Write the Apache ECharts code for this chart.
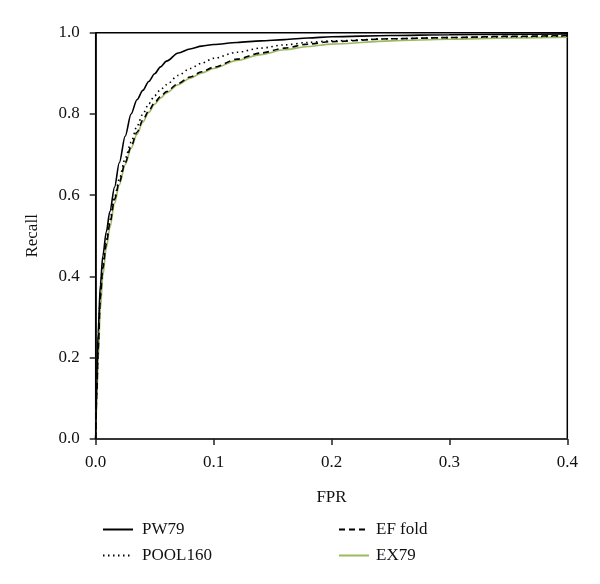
<!DOCTYPE html>
<html><head><meta charset="utf-8">
<script src="https://cdn.jsdelivr.net/npm/echarts@6/dist/echarts.min.js"></script>
<style>html,body{margin:0;padding:0;background:#fff}#c{width:600px;height:584px}</style>
</head><body><div id="c"></div>
<script>
const fpr = [0, 0.001, 0.002, 0.004, 0.006, 0.009, 0.012, 0.016, 0.02, 0.025, 0.03, 0.035, 0.04, 0.045, 0.05, 0.055, 0.06, 0.07, 0.08, 0.09, 0.1, 0.12, 0.14, 0.16, 0.18, 0.2, 0.25, 0.3, 0.35, 0.4];
const pw79    = [0, 0.15, 0.26, 0.38, 0.45, 0.51, 0.56, 0.62, 0.68, 0.745, 0.80, 0.835, 0.858, 0.880, 0.899, 0.916, 0.930, 0.950, 0.960, 0.967, 0.971, 0.976, 0.980, 0.983, 0.987, 0.990, 0.993, 0.995, 0.996, 0.997];
const pool160 = [0, 0.13, 0.23, 0.36, 0.43, 0.49, 0.54, 0.595, 0.64, 0.69, 0.73, 0.77, 0.80, 0.825, 0.845, 0.86, 0.872, 0.895, 0.912, 0.925, 0.937, 0.952, 0.962, 0.970, 0.976, 0.980, 0.985, 0.988, 0.990, 0.992];
const effold  = [0, 0.12, 0.22, 0.35, 0.42, 0.48, 0.53, 0.59, 0.632, 0.68, 0.72, 0.755, 0.785, 0.808, 0.828, 0.843, 0.855, 0.875, 0.891, 0.904, 0.915, 0.935, 0.95, 0.962, 0.972, 0.978, 0.985, 0.988, 0.991, 0.993];
const ex79    = [0, 0.10, 0.19, 0.32, 0.40, 0.47, 0.52, 0.58, 0.625, 0.675, 0.715, 0.75, 0.78, 0.804, 0.824, 0.839, 0.852, 0.872, 0.888, 0.901, 0.912, 0.932, 0.946, 0.958, 0.966, 0.972, 0.98, 0.984, 0.987, 0.989];
const xTicks = [0, 0.1, 0.2, 0.3, 0.4];
const yTicks = [0, 0.2, 0.4, 0.6, 0.8, 1.0];
const names = ['PW79', 'POOL160', 'EF fold', 'EX79'];

const font = 'Liberation Serif';
const pairs = ys => fpr.map((x, i) => [x, ys[i]]);
const mk = (name, ys, color, type, width) => ({
  name, type: 'line', data: pairs(ys), showSymbol: false, symbol: 'none',
  smooth: 0.3, smoothMonotone: 'x',
  lineStyle: { color, type, width }, itemStyle: { color }
});
const legendCommon = {
  orient: 'vertical', top: 516, itemWidth: 30, itemHeight: 14, itemGap: 9,
  itemStyle: { opacity: 0, borderWidth: 0 }
};
const chart = echarts.init(document.getElementById('c'));
chart.setOption({
  animation: false,
  grid: { left: 95.7, right: 32.7, top: 32.7, bottom: 145, show: true, borderColor: '#000', borderWidth: 1.5, backgroundColor: 'transparent' },
  xAxis: {
    type: 'value', min: xTicks[0], max: xTicks[xTicks.length - 1], interval: 0.1,
    name: 'FPR', nameLocation: 'middle', nameGap: 50,
    nameTextStyle: { fontFamily: font, fontSize: 17, color: '#111' },
    axisLine: { lineStyle: { color: '#333', width: 1.5 } },
    axisTick: { inside: false, length: 6, lineStyle: { color: '#222', width: 1.5 } },
    axisLabel: { margin: 15, fontFamily: font, fontSize: 17, color: '#111', formatter: v => v.toFixed(1) },
    splitLine: { show: false }
  },
  yAxis: {
    type: 'value', min: yTicks[0], max: yTicks[yTicks.length - 1], interval: 0.2,
    name: 'Recall', nameLocation: 'middle', nameGap: 55, nameRotate: 90,
    nameTextStyle: { fontFamily: font, fontSize: 17, color: '#111' },
    axisLine: { lineStyle: { color: '#000', width: 1.5 } },
    axisTick: { inside: false, length: 6, lineStyle: { color: '#222', width: 1.5 } },
    axisLabel: { margin: 16, fontFamily: font, fontSize: 17, color: '#111', formatter: v => v.toFixed(1) },
    splitLine: { show: false }
  },
  legend: [
    Object.assign({ data: [names[0], names[1]], left: 97,
      textStyle: { fontFamily: font, fontSize: 17, color: '#111', padding: [0, 0, 0, 4] } }, legendCommon),
    Object.assign({ data: [names[2], names[3]], left: 333,
      textStyle: { fontFamily: font, fontSize: 17, color: '#111', padding: [0, 0, 0, 2] } }, legendCommon)
  ],
  series: [
    mk(names[3], ex79, '#9cba5f', 'solid', 1.6),
    mk(names[2], effold, '#000', [6, 4], 1.6),
    mk(names[1], pool160, '#000', [1.5, 3.5], 1.6),
    mk(names[0], pw79, '#000', 'solid', 1.6)
  ]
});
</script></body></html>
